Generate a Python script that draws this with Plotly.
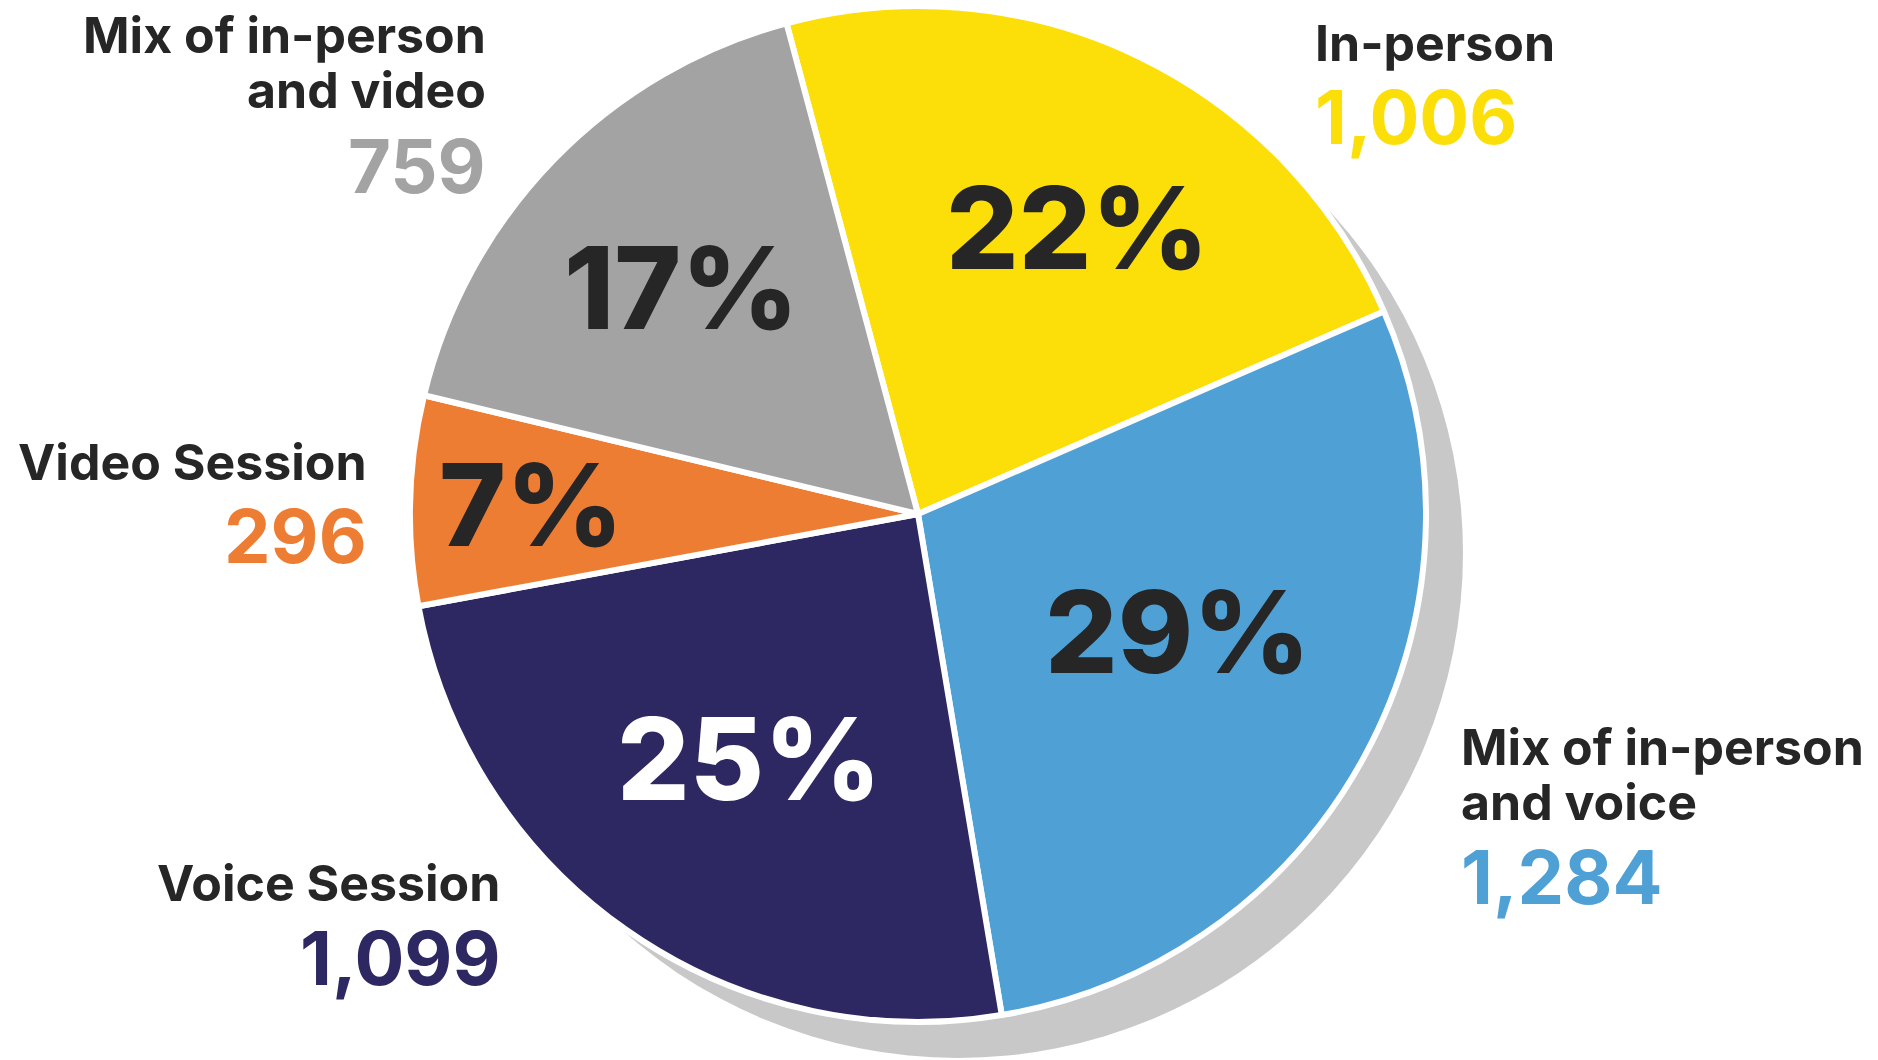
import plotly.graph_objects as go

# ---- data ----
categories = ["In-person", "Mix of in-person<br>and voice", "Voice Session",
              "Video Session", "Mix of in-person<br>and video"]
counts = [1006, 1284, 1099, 296, 759]
count_labels = ["1,006", "1,284", "1,099", "296", "759"]
pct_labels = ["22%", "29%", "25%", "7%", "17%"]

# ---- styles / layout ----
W, H = 1878, 1060
colors = ["#FCDF08", "#4FA1D5", "#2D2862", "#EE7D34", "#A3A3A3"]
pct_colors = ["#262626", "#262626", "#FFFFFF", "#262626", "#262626"]
shadow_color = "#C8C8C8"
text_dark = "#262626"
FONT = "Inter"

CX, CY, R = 918, 514, 505
GAP = 6
SDX, SDY = 40, 39


def dom(cx, cy, r):
    return dict(x=[(cx - r) / W, (cx + r) / W],
                y=[1 - (cy + r) / H, 1 - (cy - r) / H])


fig = go.Figure()
# shadow
fig.add_trace(go.Pie(values=[1], marker=dict(colors=[shadow_color], line=dict(width=0)),
                     textinfo="none", hoverinfo="skip", showlegend=False, sort=False,
                     domain=dom(CX + SDX, CY + SDY, R)))
# main pie
fig.add_trace(go.Pie(labels=categories, values=counts, sort=False, direction="clockwise",
                     rotation=-15,
                     marker=dict(colors=colors, line=dict(color="white", width=GAP)),
                     textinfo="none", hoverinfo="label+value", showlegend=False,
                     domain=dom(CX, CY, R + GAP / 2)))

# label positions (pixel coords) : (x, cap-mid y per line, number cap-mid y, anchor)
label_pos = [
    (1313, [42.5], 117, "left"),
    (1459, [747, 802], 877, "left"),
    (502, [883], 958, "right"),
    (369, [461.5], 535.5, "right"),
    (488, [35.5, 90], 166, "right"),
]
pct_pos = [(1077, 227.5), (1177, 631.5), (749, 758.5), (531, 504), (681, 288)]

LBL_SIZE = 50
NUM_SIZE = 74
PCT_SIZE = 114
OFF = 0.0

anns = []
for i, cat in enumerate(categories):
    x, ys, ny, anchor = label_pos[i]
    for line, y in zip(cat.split("<br>"), ys):
        anns.append(dict(x=x / W, y=1 - (y + OFF * LBL_SIZE) / H, xref="paper", yref="paper",
                         text=line, showarrow=False, xanchor=anchor, yanchor="middle",
                         font=dict(family=FONT, size=LBL_SIZE, color=text_dark, weight=700)))
    anns.append(dict(x=x / W, y=1 - (ny + OFF * NUM_SIZE) / H, xref="paper", yref="paper",
                     text=count_labels[i], showarrow=False, xanchor=anchor, yanchor="middle",
                     font=dict(family=FONT, size=NUM_SIZE, color=colors[i], weight=700)))
    px, py = pct_pos[i]
    anns.append(dict(x=px / W, y=1 - (py + OFF * PCT_SIZE) / H, xref="paper", yref="paper",
                     text=pct_labels[i], showarrow=False, xanchor="center", yanchor="middle",
                     font=dict(family=FONT, size=PCT_SIZE, color=pct_colors[i], weight=800)))

fig.update_layout(width=W, height=H, margin=dict(l=0, r=0, t=0, b=0),
                  paper_bgcolor="white", plot_bgcolor="white",
                  annotations=anns, showlegend=False)

fig.write_html("out.html")
